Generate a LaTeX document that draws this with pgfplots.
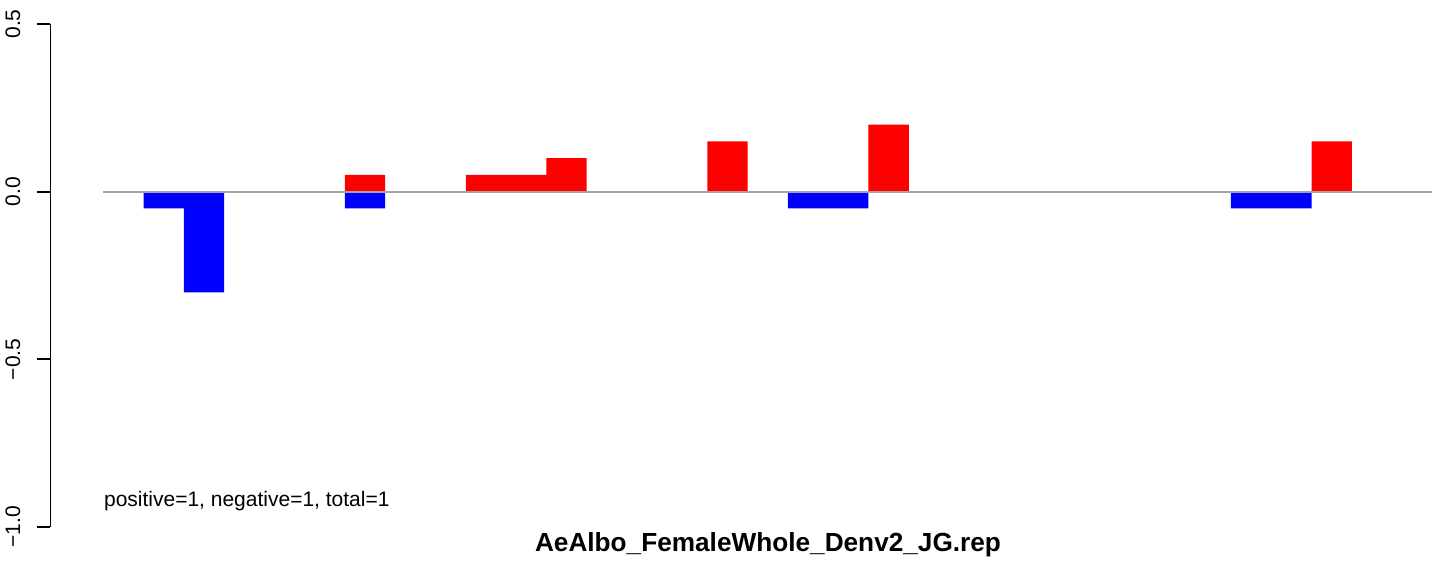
\documentclass[border=0pt]{standalone}
\usepackage{fontspec}
\setmainfont{Liberation Sans}
\usepackage{pgfplots}
\pgfplotsset{compat=1.18}
\definecolor{zl}{RGB}{165,165,165}
\begin{document}
\begin{tikzpicture}
\begin{axis}[
  scale only axis,
  width=690.9pt, height=251.5pt,
  xmin=-1.311, xmax=33,
  ymin=-1.0, ymax=0.5,
  axis x line=none,
  axis y line*=left,
  y axis line style={line width=0.9pt, black},
  ytick={-1.0,-0.5,0.0,0.5},
  yticklabels={−1.0,−0.5,0.0,0.5},
  tick align=outside,
  ytick pos=left,
  major tick length=6.5pt,
  every tick/.style={line width=0.9pt, black},
  yticklabel style={rotate=90, anchor=base, inner sep=0pt, yshift=8.7pt, font=\fontsize{10.5}{12}\selectfont},
  clip=false,
]
\addplot[ybar, bar width=1, bar shift=0pt, fill={rgb,255:red,255;green,0;blue,0}, draw=none]
  coordinates {(6.5,0.05) (9.5,0.05) (10.5,0.05) (11.5,0.1) (15.5,0.15) (19.5,0.2) (30.5,0.15)};
\addplot[ybar, bar width=1, bar shift=0pt, fill={rgb,255:red,0;green,0;blue,255}, draw=none]
  coordinates {(1.5,-0.05) (2.5,-0.3) (6.5,-0.05) (17.5,-0.05) (18.5,-0.05) (28.5,-0.05) (29.5,-0.05)};
\addplot[zl, line width=0.9pt, no marks] coordinates {(0,0) (33,0)};
\end{axis}
\node[anchor=base west, inner sep=0pt, font=\fontsize{10.5}{12}\selectfont] at (26.6pt,10.15pt) {positive=1, negative=1, total=1};
\node[anchor=base, inner sep=0pt, font=\fontsize{13.1}{15}\selectfont\bfseries] at (358.75pt,-12pt) {AeAlbo\_FemaleWhole\_Denv2\_JG.rep};
\pgfresetboundingbox
\path (-25.25pt,-17.5pt) rectangle (696.75pt,263.5pt);
\end{tikzpicture}
\end{document}
